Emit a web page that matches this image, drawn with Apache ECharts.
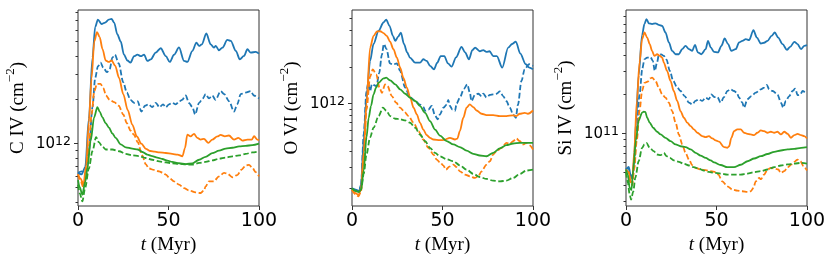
<!DOCTYPE html>
<html><head><meta charset="utf-8">
<script src="https://cdn.jsdelivr.net/npm/echarts@6/dist/echarts.min.js"></script>
<style>html,body{margin:0;padding:0;background:#fff}#c{width:831px;height:261px}</style>
</head><body><div id="c"></div>
<script>
// values are [t (Myr), log10 N (cm^-2)]
const civ_blue_solid = [[0,11.80],[2,11.79],[4,11.84],[6,12.17],[8,12.59],[9.5,12.80],[11,12.85],[13,12.82],[15,12.83],[17,12.85],[18.5,12.855],[20,12.83],[21.7,12.75],[23.6,12.70],[25.4,12.61],[27.3,12.57],[29,12.555],[31,12.60],[32.8,12.61],[34.7,12.60],[36.5,12.61],[38.3,12.567],[40.2,12.578],[42.9,12.624],[45.7,12.654],[48.5,12.60],[50.7,12.56],[53.1,12.61],[55.8,12.66],[58.6,12.567],[60.4,12.56],[63.2,12.636],[65.4,12.693],[66.9,12.67],[68.4,12.68],[70.9,12.755],[73.3,12.681],[75.1,12.658],[76.1,12.67],[77.9,12.64],[79.8,12.658],[82.5,12.711],[84.4,12.704],[87.2,12.636],[89.4,12.578],[91.7,12.601],[93.6,12.647],[95.4,12.624],[98.2,12.629],[100,12.617]];
const civ_blue_dashed = [[0,11.80],[2,11.81],[4,11.80],[6,11.95],[8,12.25],[9.5,12.45],[11,12.53],[12.5,12.555],[14,12.52],[16,12.49],[17.5,12.51],[19,12.59],[20.4,12.61],[22.5,12.55],[25,12.42],[27,12.35],[29,12.30],[31,12.28],[33,12.29],[35,12.22],[37,12.26],[39,12.27],[41,12.25],[43,12.28],[45,12.25],[47,12.27],[48.5,12.25],[50.3,12.27],[52,12.28],[54,12.27],[56,12.29],[57.5,12.30],[59.5,12.33],[61.3,12.28],[63.2,12.25],[64.7,12.20],[66.9,12.28],[69,12.31],[70.5,12.34],[72.4,12.31],[74.2,12.33],[76,12.30],[78.8,12.36],[80.7,12.34],[83.5,12.29],[86.2,12.22],[88,12.27],[89.9,12.34],[92.6,12.35],[95.4,12.36],[97.2,12.33],[100,12.31]];
const civ_orange_solid = [[0,11.79],[1.5,11.76],[3,11.72],[4.5,11.85],[6,12.15],[7.5,12.45],[9,12.70],[10.5,12.765],[12,12.73],[13.5,12.65],[15.3,12.57],[17,12.56],[18.6,12.57],[20.5,12.535],[22.7,12.45],[25,12.34],[27.5,12.23],[30,12.13],[32.5,12.05],[35,12.0],[37.5,11.965],[40,11.95],[42.5,11.945],[45,11.94],[48.5,11.936],[52,11.93],[55,11.925],[57.7,11.914],[59.1,11.97],[60.4,12.062],[62.2,12.05],[64.1,12.067],[65.9,12.04],[67.8,12.028],[69.6,12.033],[72,12.005],[74.2,12.028],[77,12.05],[78.8,12.06],[81.2,12.05],[83.4,12.056],[86.2,12.028],[88.6,12.04],[90.8,12.021],[93.6,12.028],[96,12.028],[97.3,12.051],[99.1,12.028],[100,12.023]];
const civ_orange_dashed = [[0,11.79],[1.5,11.74],[3,11.70],[4.5,11.76],[6,11.98],[7.5,12.2],[9,12.36],[10.5,12.41],[12.5,12.41],[14,12.38],[15.5,12.33],[17.5,12.30],[20,12.285],[22.5,12.26],[25,12.20],[27,12.14],[29,12.09],[31,12.06],[33,12.01],[35.5,11.92],[37.4,11.86],[39.2,11.83],[42,11.82],[44.8,11.81],[47,11.80],[48.5,11.788],[50.5,11.765],[53,11.742],[55.8,11.72],[58.6,11.696],[61.3,11.68],[65,11.666],[67.8,11.662],[69.6,11.68],[70.5,11.707],[72.4,11.742],[75,11.742],[77.9,11.776],[80.7,11.80],[82.5,11.795],[85.3,11.77],[88,11.785],[90.4,11.822],[92.6,11.85],[94.5,11.855],[96.3,11.835],[98.2,11.805],[100,11.776]];
const civ_green_solid = [[0,11.75],[1,11.70],[2.4,11.65],[4,11.74],[5.2,11.83],[7,12.02],[8.9,12.18],[10.7,12.25],[12,12.22],[13.5,12.18],[15.3,12.14],[17.1,12.11],[19,12.07],[20.8,12.04],[23.6,11.995],[26.4,11.975],[30,11.966],[33,11.96],[35.6,11.943],[38.3,11.925],[41,11.915],[43.8,11.905],[46.6,11.895],[49.4,11.884],[52,11.875],[55.8,11.866],[59.5,11.86],[63.2,11.865],[66.9,11.89],[70.5,11.91],[74.2,11.935],[77.9,11.952],[81.6,11.966],[85.3,11.972],[89,11.982],[92.6,11.985],[96.3,11.99],[100,12.0]];
const civ_green_dashed = [[0,11.72],[1,11.66],[2.4,11.605],[4,11.70],[6,11.83],[8,11.95],[10,12.045],[11.5,12.01],[13.5,11.98],[15.3,11.96],[19,11.96],[22.7,11.948],[26.4,11.93],[30,11.92],[33.7,11.915],[37.4,11.902],[41,11.89],[44.8,11.879],[48.5,11.872],[52,11.866],[56,11.862],[59.5,11.858],[63.2,11.856],[66.9,11.868],[70.5,11.875],[74.2,11.885],[77.9,11.897],[81.6,11.905],[85.3,11.913],[89,11.92],[92.6,11.93],[96.3,11.94],[100,11.948]];

const ovi_blue_solid = [[0,11.30],[2,11.29],[4,11.28],[5,11.33],[6.5,11.7],[8,12.05],[10,12.35],[11.9,12.49],[14.7,12.60],[17.4,12.667],[18.9,12.69],[20.7,12.64],[22.6,12.557],[23.9,12.515],[25.5,12.55],[27,12.584],[28.7,12.49],[30.5,12.42],[32,12.378],[34.9,12.336],[37.6,12.336],[39.4,12.364],[41.3,12.35],[43.1,12.31],[45.3,12.281],[47.1,12.336],[49,12.39],[51,12.39],[53,12.33],[55,12.303],[57.5,12.38],[60.5,12.466],[62.5,12.42],[64.6,12.364],[66.5,12.44],[68,12.46],[70.6,12.43],[72.5,12.44],[74.3,12.425],[76,12.43],[78,12.39],[80,12.39],[83,12.295],[86.3,12.46],[88.5,12.49],[90.5,12.51],[93,12.41],[96,12.323],[98,12.295],[100,12.281]];
const ovi_blue_dashed = [[0,11.30],[2,11.28],[4,11.27],[5,11.33],[6.5,11.75],[8,12.1],[9,12.17],[10,12.10],[11,12.16],[12.4,12.15],[13.5,12.14],[15,12.25],[16.5,12.4],[17.6,12.49],[19,12.45],[21,12.33],[22.5,12.32],[24.8,12.33],[26.5,12.27],[29.4,12.13],[32.1,12.05],[34.9,12.02],[37.6,11.99],[39.5,11.97],[40.4,11.94],[42.2,11.95],[44,11.98],[45.9,11.90],[47.3,11.87],[48.6,11.91],[50.5,11.965],[52.3,11.99],[53.2,12.03],[54.1,11.98],[55.4,11.95],[56.9,11.94],[57.8,12.0],[59.6,12.047],[61.8,12.12],[63.7,12.157],[65.1,12.09],[66,12.02],[67.9,12.07],[69.7,12.08],[71.6,12.06],[72.5,12.08],[74.3,12.05],[76.2,12.07],[78,12.075],[79.8,12.08],[81.7,12.10],[83.5,12.06],[85.3,12.02],[87.2,11.965],[89,11.91],[90.5,11.882],[91.7,11.99],[93.6,12.185],[95.4,12.281],[97.8,12.323],[100,12.309]];
const ovi_orange_solid = [[0,11.29],[2,11.26],[3.7,11.245],[5,11.30],[6.5,11.6],[8,12.0],[10,12.46],[11.9,12.557],[13.8,12.593],[15.6,12.595],[17.4,12.58],[19.2,12.557],[21,12.51],[22.9,12.447],[24.8,12.378],[26.6,12.295],[28.4,12.21],[30.3,12.13],[32.1,12.05],[34,11.965],[35.8,11.91],[37.6,11.84],[39.4,11.785],[41.2,11.74],[43.1,11.717],[45,11.703],[48.6,11.697],[51,11.70],[54.1,11.717],[56.9,11.703],[58.2,11.71],[59.6,11.772],[61.5,11.882],[63.3,11.965],[65.1,11.992],[67,11.97],[68.8,11.942],[71.6,11.915],[74.3,11.904],[78,11.904],[81.7,11.896],[85.3,11.896],[89,11.902],[90.8,11.896],[92.7,11.915],[95.4,11.923],[97.2,11.915],[100,11.942]];
const ovi_orange_dashed = [[0,11.29],[2,11.25],[3.7,11.235],[5,11.28],[6.5,11.55],[8,11.95],[10,12.22],[11.5,12.28],[13.4,12.24],[15.2,12.13],[16.5,12.088],[18.3,12.157],[19.6,12.145],[22,12.061],[24.4,12.006],[26.6,11.965],[29,11.93],[31.2,11.896],[34,11.841],[36.7,11.772],[39.4,11.703],[42.2,11.634],[45,11.579],[46.8,11.537],[48.6,11.515],[50.4,11.49],[51.9,11.455],[53.8,11.48],[56,11.496],[57.8,11.475],[59.6,11.441],[62.4,11.414],[65.1,11.40],[67.9,11.386],[69.7,11.40],[71.6,11.441],[74.3,11.496],[76.2,11.524],[78,11.579],[79.8,11.607],[82.6,11.634],[85.3,11.675],[87.2,11.667],[89,11.689],[90.8,11.711],[92.7,11.689],[94.5,11.662],[96.3,11.675],[98.2,11.655],[100,11.62]];
const ovi_green_solid = [[0,11.30],[2,11.28],[3.7,11.27],[5,11.29],[6.5,11.45],[8,11.72],[9.2,11.88],[10.5,11.98],[11.9,12.075],[13.3,12.13],[14.7,12.171],[17.4,12.207],[18.9,12.212],[21.1,12.19],[23.9,12.157],[26.6,12.116],[29.4,12.08],[32.1,12.047],[34.9,12.02],[37.6,11.978],[40.4,11.923],[43.1,11.854],[45.9,11.785],[48.6,11.735],[52.3,11.69],[56,11.662],[59.6,11.64],[63.3,11.612],[67,11.585],[70.6,11.571],[74.3,11.565],[78,11.593],[81.7,11.629],[85.3,11.656],[89,11.67],[92.7,11.675],[96.3,11.675],[100,11.675]];
const ovi_green_dashed = [[0,11.30],[2,11.28],[3.7,11.27],[5,11.29],[6.5,11.42],[8,11.58],[10,11.72],[11.9,11.80],[14.7,11.896],[17.1,11.965],[19,11.94],[21.1,11.896],[23.9,11.874],[26.6,11.87],[29.4,11.86],[32.1,11.841],[34.9,11.80],[37.6,11.744],[40.4,11.689],[43.1,11.634],[45.9,11.593],[48.6,11.565],[52.3,11.54],[56,11.524],[59.6,11.49],[63.3,11.455],[67,11.42],[70.6,11.394],[74.3,11.378],[78,11.364],[81.7,11.358],[85.3,11.364],[89,11.386],[92.7,11.419],[96.3,11.447],[100,11.455]];

const siiv_blue_solid = [[0,10.72],[1.5,10.74],[2.5,10.68],[3.5,10.65],[4.5,10.80],[5.5,11.08],[7,11.45],[8.9,11.76],[10.2,11.845],[11.3,11.883],[12.6,11.85],[14.4,11.844],[16.3,11.85],[18.1,11.838],[20,11.83],[21.8,11.779],[23.7,11.702],[25.5,11.637],[27.4,11.611],[29.2,11.611],[31,11.65],[32.9,11.676],[34.8,11.65],[36.6,11.637],[38.1,11.684],[39.7,11.625],[41.6,11.611],[44,11.65],[45.3,11.715],[46.8,11.664],[48.6,11.63],[50.8,11.625],[52.7,11.676],[54.5,11.733],[56.4,11.69],[58.2,11.637],[60.6,11.65],[62.5,11.702],[64.3,11.715],[66.2,11.728],[68,11.72],[70.4,11.797],[72.3,11.74],[74.5,11.694],[76.3,11.70],[78.2,11.715],[80.4,11.753],[82.2,11.779],[84.1,11.74],[86.5,11.689],[88.9,11.645],[90.7,11.668],[93,11.707],[94.8,11.689],[96.7,11.65],[98.5,11.676],[100,11.681]];
const siiv_blue_dashed = [[0,10.72],[1.5,10.73],[2.5,10.68],[3.5,10.64],[4.5,10.75],[6,11.05],[7.5,11.30],[9,11.50],[10.2,11.572],[11.7,11.585],[13.5,11.59],[14.8,11.56],[15.9,11.482],[17.2,11.55],[18.1,11.604],[19.4,11.61],[20.9,11.598],[22.4,11.57],[24.2,11.482],[26.1,11.405],[28.3,11.353],[30.1,11.327],[32.4,11.288],[34.8,11.237],[36.6,11.224],[38.4,11.25],[40.3,11.263],[42.1,11.25],[44,11.275],[45.8,11.263],[47.1,11.30],[49,11.28],[50.5,11.28],[52.3,11.237],[54.1,11.28],[56,11.327],[57.8,11.34],[59.7,11.327],[61.2,11.314],[62.5,11.275],[64.3,11.237],[65.2,11.198],[67.1,11.263],[69.3,11.288],[71.7,11.314],[74.5,11.34],[76.3,11.353],[77.8,11.374],[79.1,11.34],[81,11.327],[83.7,11.30],[85.6,11.237],[86.9,11.198],[88.3,11.25],[90.2,11.288],[92,11.327],[93.5,11.345],[94.8,11.295],[96.3,11.30],[97.6,11.327],[99.4,11.314],[100,11.31]];
const siiv_orange_solid = [[0,10.72],[1.5,10.70],[2.5,10.62],[3.5,10.63],[4.5,10.85],[6,11.25],[7.5,11.55],[8.9,11.728],[10.2,11.779],[11.7,11.74],[13.1,11.689],[14.4,11.637],[15.7,11.598],[17.2,11.611],[18.6,11.60],[20,11.585],[20.9,11.547],[22.7,11.482],[24.6,11.405],[26.4,11.327],[28.3,11.25],[30.1,11.172],[32,11.12],[33.8,11.082],[35.7,11.056],[37.5,11.03],[39.4,11.004],[42.1,10.978],[44,10.97],[45.8,10.978],[47.7,10.96],[49.5,10.945],[51.4,10.935],[54.2,10.893],[56,10.888],[57,10.90],[58.2,10.965],[59.7,11.017],[61.5,11.03],[63.4,11.03],[65.2,11.004],[67.1,10.996],[68.9,10.991],[70.8,10.986],[72.6,11.004],[74.5,11.022],[76.3,11.017],[78.2,11.004],[80,11.012],[81.9,11.004],[83.7,11.012],[85.6,10.991],[87.4,11.012],[89.3,10.996],[91.1,10.965],[93,10.986],[94.8,10.996],[96.7,10.986],[98.5,10.978],[100,10.96]];
const siiv_orange_dashed = [[0,10.72],[1.5,10.70],[2.5,10.62],[3.5,10.60],[4.5,10.72],[6,10.95],[7.5,11.18],[8.9,11.327],[10.2,11.39],[12,11.40],[13.5,11.425],[14.4,11.43],[16.3,11.405],[18.1,11.353],[20,11.301],[21.8,11.275],[23.7,11.237],[25.5,11.172],[27.4,11.082],[29.2,10.991],[31.1,10.914],[32.9,10.849],[34.8,10.797],[36.6,10.753],[38.5,10.733],[41.2,10.72],[44,10.715],[46.8,10.707],[49.5,10.70],[51,10.68],[53.2,10.629],[56,10.59],[58.8,10.565],[61.5,10.557],[64.3,10.552],[67.1,10.547],[68.9,10.552],[70.4,10.578],[71.7,10.629],[73.6,10.655],[74.5,10.645],[76.3,10.681],[78.2,10.72],[80,10.733],[81.9,10.728],[84.1,10.72],[85.6,10.694],[87.4,10.707],[89.3,10.738],[91.5,10.759],[93,10.779],[94.8,10.797],[96.3,10.785],[98.1,10.746],[100,10.712]];
const siiv_green_solid = [[0,10.72],[1,10.68],[2,10.58],[3,10.56],[4,10.72],[5.5,10.95],[7,11.10],[8.9,11.16],[9.8,11.167],[10.7,11.165],[11.7,11.12],[13.1,11.082],[15,11.043],[17.2,11.012],[19.1,10.991],[21.8,10.965],[24.6,10.939],[27.4,10.914],[30.1,10.90],[32.9,10.893],[35.7,10.875],[38.5,10.849],[41.2,10.828],[44,10.81],[46.8,10.79],[48.6,10.775],[52.3,10.755],[56,10.738],[59.7,10.738],[63.4,10.757],[67.1,10.784],[70.8,10.805],[74.5,10.823],[78.2,10.84],[81.9,10.857],[85.6,10.867],[89.3,10.875],[93,10.88],[96.7,10.888],[100,10.893]];
const siiv_green_dashed = [[0,10.70],[1,10.62],[2,10.53],[2.8,10.487],[4,10.55],[5.2,10.66],[7,10.784],[8.9,10.888],[10.2,10.914],[11.3,10.926],[13.1,10.888],[15.3,10.862],[17.2,10.836],[19.1,10.831],[20.9,10.849],[22.4,10.823],[24.2,10.81],[26.5,10.79],[29.2,10.779],[32,10.764],[34.8,10.751],[37.5,10.738],[40.3,10.725],[43.1,10.712],[45.8,10.702],[48.6,10.694],[52.3,10.689],[56,10.681],[59.7,10.681],[63.4,10.681],[67.1,10.689],[70.8,10.699],[74.5,10.707],[78.2,10.72],[81.9,10.738],[85.6,10.751],[89.3,10.759],[93,10.766],[96.7,10.771],[100,10.766]];

const ionNames = ['C IV', 'O VI', 'Si IV'];
const xTicks = [0, 50, 100];
const majorTicks = [[1e12], [1e12], [1e11]];
const majorExp = ['12', '12', '11'];
const minorTicks = [
  [4e11,5e11,6e11,7e11,8e11,9e11,2e12,3e12,4e12,5e12,6e12,7e12,8e12],
  [2e11,3e11,4e11,5e11,6e11,7e11,8e11,9e11,2e12,3e12,4e12,5e12],
  [3e10,4e10,5e10,6e10,7e10,8e10,9e10,2e11,3e11,4e11,5e11,6e11,7e11,8e11]
];
const yMinExp = [11.573, 11.155, 10.438];
const yMaxExp = [12.916, 12.770, 11.953];
const panelSeries = [
  [civ_blue_solid, civ_blue_dashed, civ_orange_solid, civ_orange_dashed, civ_green_solid, civ_green_dashed],
  [ovi_blue_solid, ovi_blue_dashed, ovi_orange_solid, ovi_orange_dashed, ovi_green_solid, ovi_green_dashed],
  [siiv_blue_solid, siiv_blue_dashed, siiv_orange_solid, siiv_orange_dashed, siiv_green_solid, siiv_green_dashed]
];
const colors = ['#1f77b4', '#1f77b4', '#ff7f0e', '#ff7f0e', '#2ca02c', '#2ca02c'];
const dashed = [false, true, false, true, false, true];

const gridLefts = [78, 352, 626];
const SANS = 'DejaVu Sans';
const SERIF = 'Liberation Serif';

const grid = [], xAxis = [], yAxis = [], series = [];
for (let p = 0; p < 3; p++) {
  grid.push({left: gridLefts[p], top: 10, width: 181, height: 196, show: true,
    borderColor: '#333', borderWidth: 1, backgroundColor: 'transparent', outerBoundsMode: 'none'});
  xAxis.push({type: 'value', gridIndex: p, min: 0, max: 100, interval: 50, position: 'bottom',
    axisLine: {show: false}, splitLine: {show: false},
    axisTick: {show: true, length: 4, lineStyle: {color: '#333', width: 1}, customValues: xTicks},
    axisLabel: {customValues: xTicks, fontFamily: SANS, fontSize: 19, color: '#000', margin: 6},
    name: '{i|t}{a| (Myr)}', nameLocation: 'middle', nameGap: 23,
    nameTextStyle: {rich: {
      i: {fontFamily: SERIF, fontStyle: 'italic', fontSize: 19, color: '#000'},
      a: {fontFamily: SERIF, fontSize: 19, color: '#000'}}}
  });
  const exp = majorExp[p];
  yAxis.push({type: 'log', logBase: 10, gridIndex: p, position: 'left',
    min: Math.pow(10, yMinExp[p]), max: Math.pow(10, yMaxExp[p]),
    axisLine: {show: false}, splitLine: {show: false}, minorTick: {show: false},
    axisTick: {show: true, length: 4, lineStyle: {color: '#333', width: 1}, customValues: majorTicks[p]},
    axisLabel: {customValues: majorTicks[p], margin: 7, formatter: () => '{b|10}{s|' + exp + '}',
      rich: {
        b: {fontFamily: SANS, fontSize: 15, color: '#000', lineHeight: 16, verticalAlign: 'bottom'},
        s: {fontFamily: SANS, fontSize: 12.5, color: '#000', lineHeight: 13, verticalAlign: 'top'}
      }},
    name: '{a|' + ionNames[p] + ' (cm}{s|\u22122}{a|)}', nameLocation: 'middle', nameRotate: 90, nameGap: 50,
    nameTextStyle: {rich: {
      a: {fontFamily: SERIF, fontSize: 19, color: '#000', lineHeight: 24, verticalAlign: 'bottom'},
      s: {fontFamily: SERIF, fontSize: 13, color: '#000', lineHeight: 14, verticalAlign: 'top'}}}
  });
  yAxis.push({type: 'log', logBase: 10, gridIndex: p, position: 'left',
    min: Math.pow(10, yMinExp[p]), max: Math.pow(10, yMaxExp[p]),
    axisLine: {show: false}, splitLine: {show: false}, axisLabel: {show: false},
    axisTick: {show: true, length: 2.5, lineStyle: {color: '#333', width: 1}, customValues: minorTicks[p]}
  });
  panelSeries[p].forEach((arr, k) => {
    series.push({type: 'line', xAxisIndex: p, yAxisIndex: 2 * p,
      data: arr.map(d => [d[0], Math.pow(10, d[1])]),
      symbol: 'none', smooth: 0.3, smoothMonotone: 'x', animation: false, silent: true,
      lineStyle: {color: colors[k], width: 1.8, type: dashed[k] ? [5.5, 2.5] : 'solid'}
    });
  });
}

const chart = echarts.init(document.getElementById('c'), null, {renderer: 'canvas'});
chart.setOption({animation: false, backgroundColor: '#fff', grid, xAxis, yAxis, series});
</script>
</body></html>
